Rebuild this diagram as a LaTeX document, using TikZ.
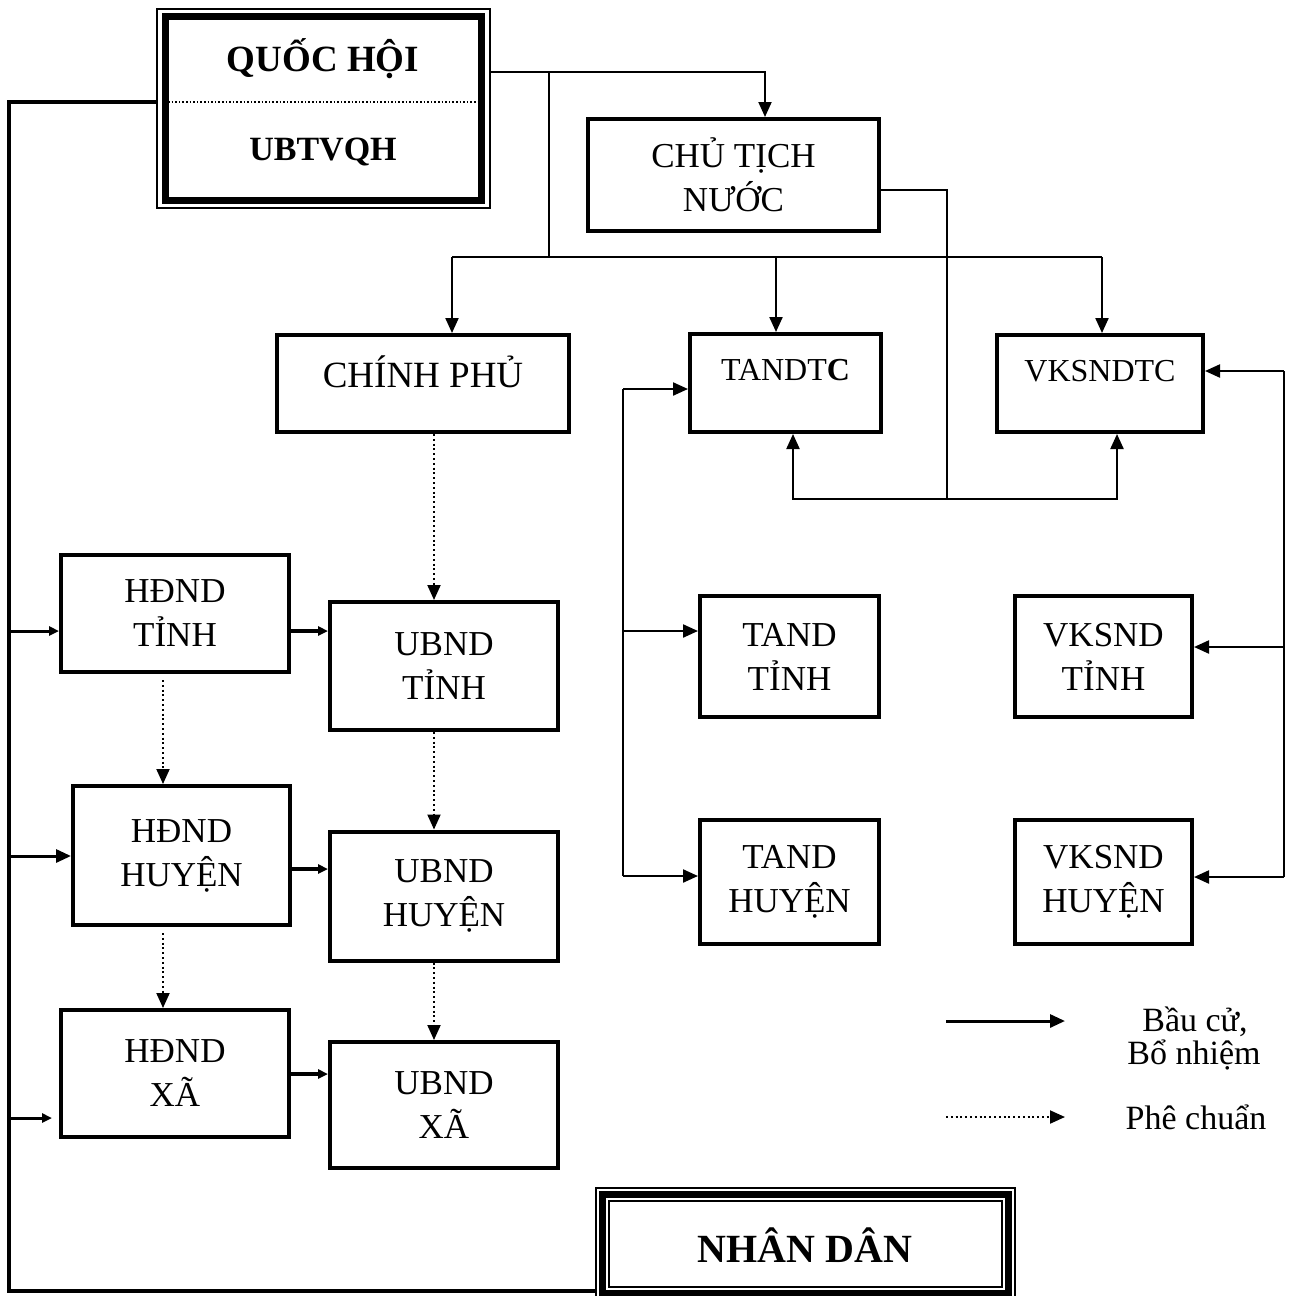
\documentclass[tikz,border=0pt]{standalone}
\usepackage{fontspec}
\setmainfont{Liberation Serif}
\usetikzlibrary{arrows.meta,calc}
\begin{document}
\begin{tikzpicture}[x=0.5pt,y=-0.5pt,
 box/.style={draw,line width=2pt,rectangle,align=center,inner sep=0pt,font=\fontsize{17.5}{22}\selectfont},
 ln/.style={line width=1.1pt},
 big/.style={-{Triangle[length=7.5pt,width=6.5pt]}},
 small/.style={-{Triangle[length=5pt,width=4.5pt]}},
 dotline/.style={line width=1pt,dash pattern=on 1pt off 1.4pt},
]
\useasboundingbox (0,0) rectangle (1296,1296);

% ---- QUOC HOI ----
\node[draw,line width=0.6pt,minimum width=166.5pt,minimum height=99.5pt,inner sep=0pt] (qh) at (323.5,108.5) {};
\draw[line width=3.2pt] ([xshift=4.5pt,yshift=-4pt]qh.north west) rectangle ([xshift=-4.5pt,yshift=4pt]qh.south east);
\node[font=\bfseries\fontsize{18.5}{22}\selectfont] (qhtext) at (323,59) {QUỐC HỘI};
\node[font=\bfseries\fontsize{17}{20}\selectfont] (ubtv) at (323,152) {UBTVQH};
\coordinate (sepl) at (168,102);
\coordinate (sepr) at (478,102);
\draw[line width=0.7pt,dash pattern=on 0.8pt off 1pt] (sepl) -- (sepr);

% ---- boxes ----
\node[box,minimum width=145.5pt,minimum height=56pt] (chutich) at (733.5,175) {CHỦ TỊCH\\NƯỚC};
\node[box,minimum width=146pt,minimum height=48.5pt,font=\fontsize{18.5}{22}\selectfont,text height=12.2pt,text depth=8.5pt] (chinhphu) at (423,383.5) {CHÍNH PHỦ};
\node[box,minimum width=95.5pt,minimum height=49pt,font=\fontsize{16}{20}\selectfont,text height=10.6pt,text depth=13pt] (tandtc) at (785.5,383) {TANDT\textbf{C}};
\node[box,minimum width=103pt,minimum height=48.5pt,font=\fontsize{16}{20}\selectfont,text height=10.6pt,text depth=13pt] (vksndtc) at (1100,383.5) {VKSNDTC};

\node[box,minimum width=89.5pt,minimum height=60.5pt] (tandt) at (789.5,656.5) {TAND\\TỈNH};
\node[box,minimum width=89.5pt,minimum height=62pt] (tandh) at (789.5,882) {TAND\\HUYỆN};
\node[box,minimum width=88.5pt,minimum height=60.5pt] (vkst) at (1103.5,656.5) {VKSND\\TỈNH};
\node[box,minimum width=88.5pt,minimum height=62pt] (vksh) at (1103.5,882) {VKSND\\HUYỆN};

\node[box,minimum width=114pt,minimum height=58.5pt] (hdt) at (175,613.5) {HĐND\\TỈNH};
\node[box,minimum width=114pt,minimum height=64pt] (ubt) at (444,666) {UBND\\TỈNH};
\node[box,minimum width=108.5pt,minimum height=69.5pt] (hdh) at (181.5,855.5) {HĐND\\HUYỆN};
\node[box,minimum width=114pt,minimum height=64.5pt] (ubh) at (444,896) {UBND\\HUYỆN};
\node[box,minimum width=114pt,minimum height=63.5pt] (hdx) at (175,1073.5) {HĐND\\XÃ};
\node[box,minimum width=114pt,minimum height=63pt] (ubx) at (444,1105) {UBND\\XÃ};

% ---- NHAN DAN ----
\node[draw,line width=0.6pt,minimum width=209.5pt,minimum height=56pt,inner sep=0pt] (nd) at (805.5,1244) {};
\draw[line width=3.5pt] ([xshift=3.75pt,yshift=-3.75pt]nd.north west) rectangle ([xshift=-3.75pt,yshift=3.75pt]nd.south east);
\draw[line width=1pt] ([xshift=7pt,yshift=-7pt]nd.north west) rectangle ([xshift=-7pt,yshift=7pt]nd.south east);
\node[font=\bfseries\fontsize{20}{24}\selectfont] (ndtext) at (805,1245) {NHÂN DÂN};

% ---- big left line ----
\coordinate (L0) at (9,102);
\coordinate (Lb) at (9,1291);
\draw[line width=2pt] (qh.west |- sepl) -- (L0) -- (Lb) -- (Lb -| nd.west);
\coordinate (L1) at (9,631);
\coordinate (L2) at (9,856);
\coordinate (L3) at (9,1118);
\coordinate (L3e) at (52,1118);
\draw[line width=1.5pt,small] (L1) -- (L1 -| hdt.west);
\draw[line width=1.5pt,big] (L2) -- (L2 -| hdh.west);
\draw[line width=1.5pt,small] (L3) -- (L3e);

% ---- HDND -> UBND ----
\coordinate (m1) at (0,631);
\coordinate (m2) at (0,869);
\coordinate (m3) at (0,1074);
\draw[line width=2pt,small] (m1 -| hdt.east) -- (m1 -| ubt.west);
\draw[line width=2pt,small] (m2 -| hdh.east) -- (m2 -| ubh.west);
\draw[line width=2pt,small] (m3 -| hdx.east) -- (m3 -| ubx.west);

% ---- dotted (phe chuan) ----
\coordinate (d1) at (434,0);
\coordinate (d2) at (163,0);
\draw[dotline,big] (d1 |- chinhphu.south) -- (d1 |- ubt.north);
\draw[dotline,big] (d1 |- ubt.south) -- (d1 |- ubh.north);
\draw[dotline,big] (d1 |- ubh.south) -- (d1 |- ubx.north);
\draw[dotline,big] ([yshift=-3pt]d2 |- hdt.south) -- (d2 |- hdh.north);
\draw[dotline,big] ([yshift=-3pt]d2 |- hdh.south) -- (d2 |- hdx.north);

% ---- top connectors ----
\coordinate (c1) at (765,72);
\draw[line width=1pt,big] (qh.east |- c1) -- (c1) -- (c1 |- chutich.north);
\coordinate (q1) at (549,72);
\coordinate (q2) at (549,257);
\draw[line width=1pt] (q1) -- (q2);
\coordinate (h1) at (452,257);
\coordinate (h2) at (776,257);
\coordinate (h3) at (1102,257);
\draw[line width=1pt] (h1) -- (h3);
\draw[ln,big] (h1) -- (h1 |- chinhphu.north);
\draw[ln,big] (h2) -- (h2 |- tandtc.north);
\draw[ln,big] (h3) -- (h3 |- vksndtc.north);

% ---- chu tich -> courts ----
\coordinate (k1) at (947,190);
\coordinate (k2) at (947,499);
\coordinate (k3) at (793,499);
\coordinate (k4) at (1117,499);
\draw[ln] (chutich.east |- k1) -- (k1) -- (k2);
\draw[ln,big] (k2) -- (k3) -- (k3 |- tandtc.south);
\draw[ln,big] (k2) -- (k4) -- (k4 |- vksndtc.south);

% ---- TAND ----
\coordinate (t1) at (623,389);
\coordinate (t2) at (623,631);
\coordinate (t3) at (623,876);
\draw[ln] (t1) -- (t3);
\draw[ln,big] (t1) -- (t1 -| tandtc.west);
\draw[ln,big] (t2) -- (t2 -| tandt.west);
\draw[ln,big] (t3) -- (t3 -| tandh.west);

% ---- VKSND ----
\coordinate (v1) at (1284,371);
\coordinate (v2) at (1284,647);
\coordinate (v3) at (1284,877);
\draw[ln] (v1) -- (v3);
\draw[ln,big] (v1) -- (v1 -| vksndtc.east);
\draw[ln,big] (v2) -- (v2 -| vkst.east);
\draw[ln,big] (v3) -- (v3 -| vksh.east);

% ---- legend ----
\coordinate (a1) at (946,1021);
\coordinate (a2) at (1065,1021);
\coordinate (b1) at (946,1117);
\coordinate (b2) at (1065,1117);
\draw[line width=1.5pt,big] (a1) -- (a2);
\draw[dotline,big] (b1) -- (b2);
\node[anchor=base,font=\fontsize{17}{20}\selectfont] (lg1) at (1195,1031) {Bầu cử,};
\node[anchor=base,font=\fontsize{17}{20}\selectfont] (lg2) at (1194,1064) {Bổ nhiệm};
\node[anchor=base,font=\fontsize{17}{20}\selectfont] (lg3) at (1196,1129) {Phê chuẩn};
\end{tikzpicture}
\end{document}
